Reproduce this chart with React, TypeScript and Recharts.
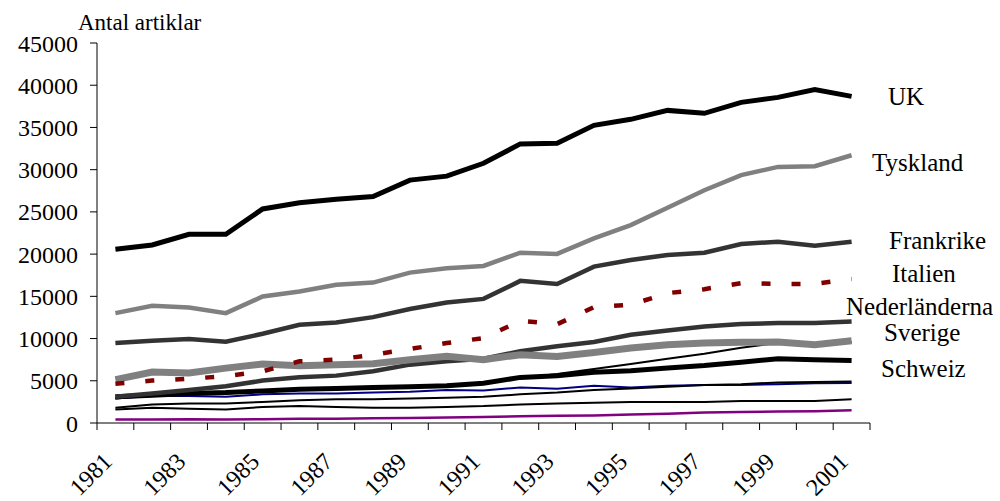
import { LineChart, Line, XAxis, YAxis } from 'recharts';

const years = [1981, 1982, 1983, 1984, 1985, 1986, 1987, 1988, 1989, 1990, 1991, 1992, 1993, 1994, 1995, 1996, 1997, 1998, 1999, 2000, 2001];

const uk = [20570, 21080, 22350, 22350, 25350, 26080, 26510, 26810, 28760, 29230, 30760, 33050, 33130, 35250, 35960, 37020, 36670, 37970, 38560, 39500, 38680];
const tyskland = [13010, 13880, 13680, 13010, 14980, 15570, 16360, 16630, 17810, 18330, 18600, 20170, 20020, 21870, 23440, 25500, 27560, 29350, 30330, 30410, 31710];
const frankrike = [9470, 9740, 9940, 9625, 10570, 11630, 11900, 12540, 13500, 14270, 14700, 16830, 16470, 18520, 19310, 19900, 20170, 21200, 21470, 21000, 21470];
const italien = [4660, 5020, 5250, 5530, 6120, 7300, 7500, 8090, 8760, 9470, 10060, 12100, 11700, 13720, 14000, 15380, 15850, 16560, 16470, 16470, 17060];
const nederlanderna = [3100, 3500, 3900, 4350, 5020, 5410, 5610, 6120, 6910, 7300, 7600, 8500, 9100, 9590, 10450, 10960, 11430, 11720, 11830, 11830, 12020];
const sverige = [5140, 6040, 5930, 6500, 6990, 6790, 6910, 7030, 7500, 7890, 7500, 8090, 7890, 8360, 8880, 9270, 9470, 9550, 9590, 9270, 9740];
const schweiz = [3100, 3300, 3500, 3600, 3800, 4000, 4100, 4200, 4300, 4400, 4700, 5400, 5600, 6000, 6200, 6500, 6800, 7200, 7600, 7500, 7400];
// unlabelled series
const ovrigaA = [2900, 3300, 3500, 3500, 3800, 4000, 4000, 4100, 4300, 4500, 4800, 5300, 5800, 6400, 7000, 7600, 8200, 8900, 9500, 9400, 9600];
const ovrigaB = [1800, 2200, 2300, 2300, 2500, 2700, 2800, 2800, 2900, 3000, 3100, 3400, 3600, 3900, 4100, 4300, 4500, 4600, 4800, 4850, 4900];
const ovrigaC = [1600, 1800, 1700, 1600, 1900, 2000, 1900, 1800, 1800, 1900, 2000, 2200, 2300, 2400, 2500, 2500, 2500, 2600, 2600, 2600, 2800];
const ovrigaBla = [2900, 3200, 3200, 3100, 3400, 3500, 3500, 3600, 3700, 3900, 3850, 4200, 4050, 4400, 4200, 4400, 4500, 4500, 4600, 4700, 4750];
const ovrigaLila = [400, 400, 450, 400, 450, 500, 500, 550, 600, 650, 700, 800, 850, 900, 1000, 1100, 1250, 1300, 1350, 1400, 1500];

const yTicks = [0, 5000, 10000, 15000, 20000, 25000, 30000, 35000, 40000, 45000];

const data = years.map((year, i) => ({
  x: i,
  year,
  uk: uk[i],
  tyskland: tyskland[i],
  frankrike: frankrike[i],
  italien: italien[i],
  nederlanderna: nederlanderna[i],
  sverige: sverige[i],
  schweiz: schweiz[i],
  a: ovrigaA[i],
  b: ovrigaB[i],
  c: ovrigaC[i],
  bla: ovrigaBla[i],
  lila: ovrigaLila[i],
}));

// tick marks sit between categories, labels on every second year
const xTicks: number[] = [];
for (let i = -0.5; i <= years.length - 0.5; i += 0.5) xTicks.push(i);

const FONT = "'Liberation Serif', 'Times New Roman', serif";

const series = [
  { key: 'lila', color: '#800080', width: 2.5 },
  { key: 'c', color: '#000000', width: 2 },
  { key: 'bla', color: '#000080', width: 2 },
  { key: 'b', color: '#000000', width: 2 },
  { key: 'a', color: '#000000', width: 2 },
  { key: 'schweiz', color: '#000000', width: 5 },
  { key: 'nederlanderna', color: '#333333', width: 4.5 },
  { key: 'sverige', color: '#808080', width: 7 },
  { key: 'italien', color: '#800000', width: 4.5, dash: '9 21' },
  { key: 'frankrike', color: '#333333', width: 4.5 },
  { key: 'tyskland', color: '#808080', width: 4.5 },
  { key: 'uk', color: '#000000', width: 5 },
];

const labels = [
  { text: 'UK', left: 888, top: 96 },
  { text: 'Tyskland', left: 872, top: 162 },
  { text: 'Frankrike', left: 889, top: 240 },
  { text: 'Italien', left: 892, top: 273 },
  { text: 'Nederländerna', left: 846, top: 306 },
  { text: 'Sverige', left: 884, top: 332 },
  { text: 'Schweiz', left: 881, top: 368 },
];

const YearTick = (props: any) => {
  const { x, y, payload } = props;
  const v = payload.value;
  if (!Number.isInteger(v)) {
    return <line x1={x} y1={y} x2={x} y2={y + 7} stroke="#000" strokeWidth={1} />;
  }
  if (v % 2 !== 0) return <g />;
  const ax = x - 2;
  const ay = y + 40;
  return (
    <text
      x={ax}
      y={ay}
      transform={`rotate(-45 ${ax} ${ay})`}
      textAnchor="end"
      fontSize={24}
      fontFamily={FONT}
      fill="#000"
    >
      {years[v]}
    </text>
  );
};

export default function App() {
  return (
    <div style={{ position: 'absolute', left: 0, top: 0, width: 1000, height: 501, background: '#fff', fontFamily: FONT }}>
      <LineChart width={1000} height={501} data={data} margin={{ top: 43, right: 130, bottom: 0, left: 0 }}>
        <XAxis
          dataKey="x"
          type="number"
          domain={[-0.5, years.length - 0.5]}
          ticks={xTicks}
          interval={0}
          height={78}
          tickLine={false}
          tickSize={0}
          tickMargin={0}
          axisLine={{ stroke: '#000' }}
          tick={<YearTick />}
        />
        <YAxis
          type="number"
          domain={[0, 45000]}
          ticks={yTicks}
          interval={0}
          width={97}
          tickSize={7}
          tickMargin={12}
          axisLine={{ stroke: '#000' }}
          tickLine={{ stroke: '#000' }}
          tick={{ fontSize: 24, fill: '#000', fontFamily: FONT }}
        />
        {series.map((s) => (
          <Line
            key={s.key}
            type="linear"
            dataKey={s.key}
            stroke={s.color}
            strokeWidth={s.width}
            strokeDasharray={s.dash}
            dot={false}
            activeDot={false}
            isAnimationActive={false}
          />
        ))}
      </LineChart>
      <div style={{ position: 'absolute', left: 78, top: 22, transform: 'translateY(-50%)', fontSize: 23, whiteSpace: 'nowrap', lineHeight: 1 }}>
        Antal artiklar
      </div>
      {labels.map((l) => (
        <div
          key={l.text}
          style={{ position: 'absolute', left: l.left, top: l.top, transform: 'translateY(-50%)', fontSize: 25, whiteSpace: 'nowrap', lineHeight: 1 }}
        >
          {l.text}
        </div>
      ))}
    </div>
  );
}
